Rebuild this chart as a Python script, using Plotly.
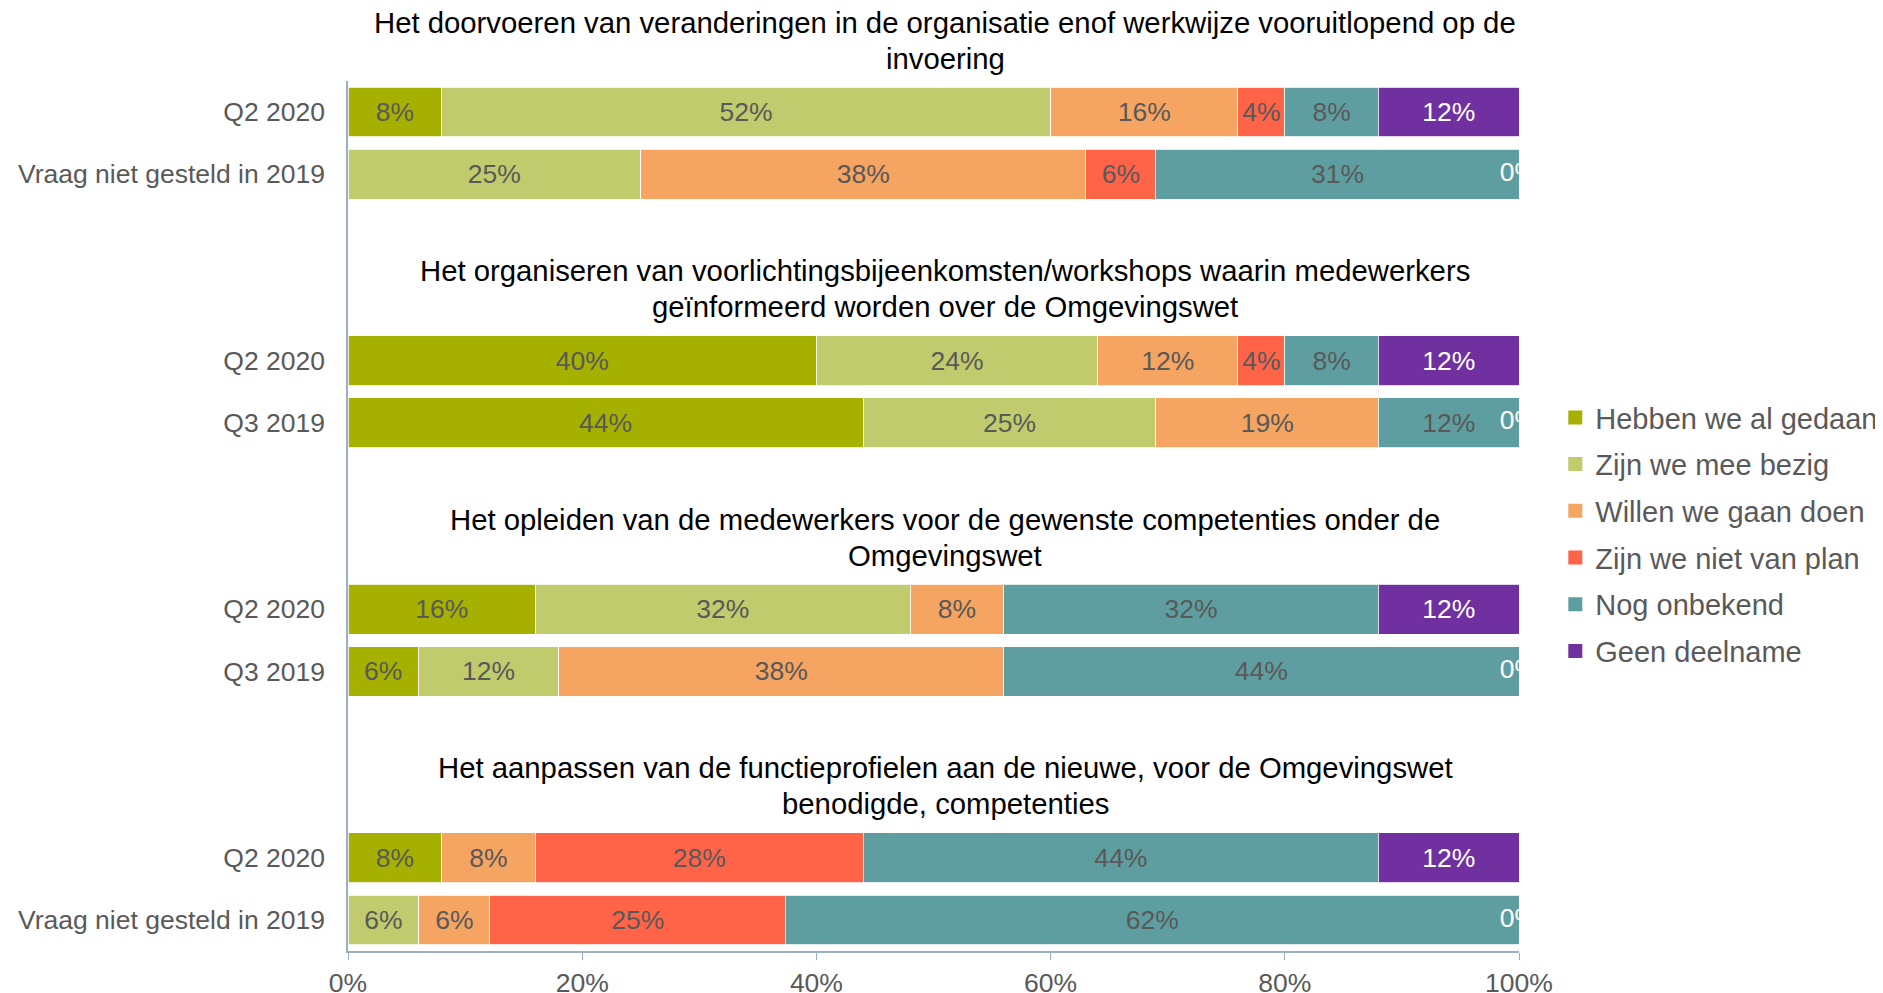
import plotly.graph_objects as go

titles = [
    "Het doorvoeren van veranderingen in de organisatie enof werkwijze vooruitlopend op de<br>invoering",
    "Het organiseren van voorlichtingsbijeenkomsten/workshops waarin medewerkers<br>geïnformeerd worden over de Omgevingswet",
    "Het opleiden van de medewerkers voor de gewenste competenties onder de<br>Omgevingswet",
    "Het aanpassen van de functieprofielen aan de nieuwe, voor de Omgevingswet<br>benodigde, competenties",
]
row_labels = [
    "Q2 2020", "Vraag niet gesteld in 2019",
    "Q2 2020", "Q3 2019",
    "Q2 2020", "Q3 2019",
    "Q2 2020", "Vraag niet gesteld in 2019",
]
series_names = ["Hebben we al gedaan", "Zijn we mee bezig", "Willen we gaan doen",
                "Zijn we niet van plan", "Nog onbekend", "Geen deelname"]
hebben = [8, None, 40, 44, 16, 6, 8, None]
bezig = [52, 25, 24, 25, 32, 12, None, 6]
willen = [16, 38, 12, 19, 8, 38, 8, 6]
niet = [4, 6, 4, None, None, None, 28, 25]
onbekend = [8, 31, 8, 12, 32, 44, 44, 62]
geen = [12, 0, 12, 0, 12, 0, 12, 0]
x_ticks = [0, 20, 40, 60, 80, 100]
x_ticklabels = ["0%", "20%", "40%", "60%", "80%", "100%"]

series = [hebben, bezig, willen, niet, onbekend, geen]
colors = ["#A5B000", "#BFCB6D", "#F5A461", "#FF6449", "#5F9EA0", "#7030A0"]
text_colors = ["#595959"] * 5 + ["#FFFFFF"]

FONT = "Liberation Sans, Arial, sans-serif"
GREY = "#595959"
AXIS = "#9AAFC2"

# slot positions: two bars per group, 4 slots per group
ypos = [4 * (i // 2) + (i % 2) for i in range(len(row_labels))]
Y_RANGE = [13.5, -0.5]

W, H = 1875, 985
M = dict(l=340, r=364, t=73, b=42)
plot_h = H - M["t"] - M["b"]

fig = go.Figure()
for k, (name, vals) in enumerate(zip(series_names, series)):
    fig.add_trace(go.Bar(
        name=name, orientation="h", y=ypos, x=vals,
        marker=dict(color=colors[k], line=dict(color="white", width=0.8)),
        text=[f"{v}%" if v else "" for v in vals],
        textposition="inside", insidetextanchor="middle",
        constraintext="none",
        textfont=dict(family=FONT, size=26.5, color=text_colors[k]),
        showlegend=False, hoverinfo="skip",
    ))
    # legend entry with a larger square swatch
    fig.add_trace(go.Scatter(
        name=name, x=[None], y=[None], mode="markers",
        marker=dict(symbol="square", size=14, color=colors[k]),
        legendgroup=name, showlegend=True, hoverinfo="skip",
    ))

# zero-value labels of the last series sit at the end of the (normalised) stack
zero_y = [y for y, v in zip(ypos, geen) if v == 0]
fig.add_trace(go.Scatter(
    x=[100] * len(zero_y), y=zero_y, mode="text",
    text=["0%"] * len(zero_y), textposition="middle center",
    textfont=dict(family=FONT, size=26.5, color="white"),
    cliponaxis=True, showlegend=False, hoverinfo="skip",
))

span = Y_RANGE[0] - Y_RANGE[1]
LINE_PX = 36
for g, t in enumerate(titles):
    slot = 4 * g - 1.156
    yc = (Y_RANGE[0] - slot) / span
    lines = t.split("<br>")
    n = len(lines)
    for j, line in enumerate(lines):
        off = (j - (n - 1) / 2) * LINE_PX / plot_h
        fig.add_annotation(
            text=line, xref="paper", yref="paper", x=0.51, y=yc - off,
            showarrow=False, xanchor="center", yanchor="middle",
            font=dict(family=FONT, size=29.3, color="#000000"),
        )

# the page body adds an 8px offset, so the figure is 8px smaller than the window
fig.update_layout(
    barmode="stack", barnorm="percent", bargap=0.2,
    width=W, height=H,
    margin=dict(**M, autoexpand=False),
    paper_bgcolor="white", plot_bgcolor="white",
    font=dict(family=FONT, color=GREY),
    legend=dict(
        x=1.031, y=0.6425, xanchor="left", yanchor="top",
        font=dict(family=FONT, size=29, color=GREY),
        itemwidth=30, tracegroupgap=6, traceorder="grouped",
    ),
    showlegend=True,
)
fig.update_xaxes(
    range=[0, 100], tickvals=x_ticks, ticktext=x_ticklabels,
    showgrid=False, zeroline=False, showline=True, linecolor=AXIS, linewidth=1.5,
    ticks="outside", ticklen=7, tickcolor=AXIS,
    automargin=False,
    tickfont=dict(family=FONT, size=26.5, color=GREY),
)
fig.update_yaxes(
    range=Y_RANGE, tickvals=ypos, ticktext=row_labels,
    showgrid=False, zeroline=False, showline=True, linecolor=AXIS, linewidth=1.5,
    ticks="", ticklabelstandoff=16, automargin=False,
    tickfont=dict(family=FONT, size=26.5, color=GREY),
)

fig.write_html("out.html")
